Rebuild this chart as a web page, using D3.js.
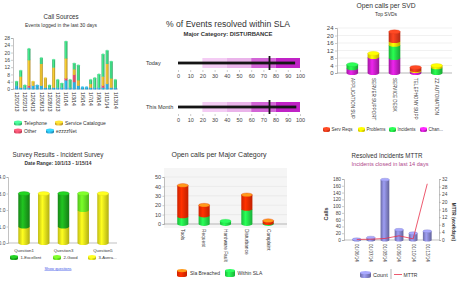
<!DOCTYPE html>
<html><head><meta charset="utf-8">
<script src="https://cdn.jsdelivr.net/npm/d3@7"></script>
<style>body{margin:0;background:#fff}svg{display:block}text{font-family:"Liberation Sans",Arial,sans-serif;fill:#333}</style>
</head><body><svg id="c" width="458" height="290"></svg>
<script>
// ---------- DATA ----------
const callDates=["12/20/13","12/21/13","12/22/13","12/23/13","12/24/13","12/25/13","12/26/13","12/27/13","12/28/13","12/29/13","12/30/13","12/31/13","1/1/14","1/2/14","1/3/14","1/4/14","1/5/14","1/6/14","1/7/14","1/8/14","1/9/14","1/10/14","1/11/14","1/12/14","1/13/14"];
const callEzzzzNet=[2,1,1,1,2,2,2,1,1,1,1,1,5,1,4,2,1,1,1,1,1,1,3,1,1];
const callOther=[0,0,0,1,0,0,0,0,0,0,0,0,1,0,4,0,0,0,0,0,0,1,0,0,0];
const callServiceCatalogue=[0,6,0,14,2,0,12,5,0,11,0,0,11,0,3,3,0,0,2,0,0,5,11,5,0];
const callTelephone=[2,3,1,6,0,0,3,0,1,4,4,2,9,4,3,8,0,0,2,5,7,12,7,9,4];
const callTicks=[0,4,8,12,16,20,24,28];

const bulletLabels=["Today","This Month"];
const bulletValues=[96,97];
const bulletTargets=[75,75];
const bulletRangeBreaks=[20,40,60,80,100];
const bulletTicks=[0,10,20,30,40,50,60,70,80,90,100];

const svdCategories=["APPLICATION SUP","SERVER SUPPORT","SERVICE DESK","TELEPHONY SUPP","ZZ AUTOMATION"];
const svdChanges=[2.5,8.5,8,1,0];
const svdIncidents=[2,0,7,0,3];
const svdProblems=[0,2,2,0.5,1];
const svdServReqs=[0,0,5,1.5,0];
const svdTicks=[0,4,8,12,16,20,24];

const surveyQuestions=["Question1","Question2","Question3","Question4","Question5"];
const surveyAverage=[1,3,1,2,3];
const surveyGood=[0,0,0,1,0];
const surveyExcellent=[2,0,2,0,0];
const surveyTicks=[0,1,2,3,4];

const majorCategories=["Tools","Request","Hardware Fault","Disturbance","Complaint"];
const majorWithinSla=[8,9,3,16,1];
const majorBreached=[33,11,0,15,2.5];
const majorTicks=[0,10,20,30,40,50];

const mttrDates=["01/06/14","01/07/14","01/08/14","01/09/14","01/10/14","01/13/14"];
const mttrCounts=[2,7,178,30,20,26];
const mttrDays=[0.3,0.4,0.8,2.2,0.6,29.5];
const mttrCountTicks=[0,20,40,60,80,100,120,140,160,180];
const mttrDayTicks=[0,4,8,12,16,20,24,28,32];

// ---------- HELPERS ----------
const svg=d3.select("#c");
const defs=svg.append("defs");
const made={};
function gradFor(color){
  const id="g"+color.replace("#","");
  if(!made[id]){
    const c=d3.color(color);
    const g=defs.append("linearGradient").attr("id",id).attr("x1",0).attr("x2",1).attr("y1",0).attr("y2",0);
    g.append("stop").attr("offset","0%").attr("stop-color",c.darker(0.6));
    g.append("stop").attr("offset","38%").attr("stop-color",c.brighter(0.5));
    g.append("stop").attr("offset","100%").attr("stop-color",c.darker(0.8));
    made[id]=1;
  }
  return `url(#${id})`;
}
function cyl(g,cx,w,segs,capColors){
  const rx=w/2, ry=Math.max(0.6,w*0.17);
  const x0=cx-rx,x1=cx+rx;
  segs.forEach(s=>{
    g.append("path").attr("d",`M${x0},${s.y1} L${x0},${s.y0} A${rx},${ry} 0 0 0 ${x1},${s.y0} L${x1},${s.y1} Z`)
      .attr("fill",gradFor(s.color));
  });
  if(segs.length){
    const t=segs[segs.length-1];
    const cap=(capColors&&capColors[t.color])||d3.color(t.color).brighter(0.7);
    g.append("ellipse").attr("cx",cx).attr("cy",t.y1).attr("rx",rx).attr("ry",ry)
      .attr("fill",cap).attr("stroke",d3.color(t.color).darker(0.3)).attr("stroke-width",0.3);
  }
}
function miniCyl(g,x,y,w,h,color,cap){
  const rx=w/2, ry=Math.min(1.6,h*0.3);
  g.append("path").attr("d",`M${x},${y+ry} L${x},${y+h-ry} A${rx},${ry} 0 0 0 ${x+w},${y+h-ry} L${x+w},${y+ry} Z`).attr("fill",gradFor(color));
  g.append("ellipse").attr("cx",x+rx).attr("cy",y+ry).attr("rx",rx).attr("ry",ry).attr("fill",cap||d3.color(color).brighter(0.7));
}
function txt(x,y,s,size,opt={}){
  const t=svg.append("text").attr("x",x).attr("y",y).attr("font-size",size).text(s)
    .attr("text-anchor",opt.anchor||"middle");
  if(opt.bold)t.attr("font-weight","bold");
  if(opt.fill)t.style("fill",opt.fill);
  if(opt.len)t.attr("textLength",opt.len).attr("lengthAdjust","spacingAndGlyphs");
  if(opt.deco)t.attr("text-decoration",opt.deco);
  return t;
}
function styleAxis(a,size){
  a.selectAll("text").attr("font-size",size).style("fill","#444").attr("font-family","Liberation Sans, Arial, sans-serif");
  a.selectAll("line").attr("stroke","#999").attr("stroke-width",0.5);
  a.select(".domain").attr("stroke","#999").attr("stroke-width",0.6);
}
function stackSegs(stack,i,y,colors){
  return stack.map(s=>({y0:y(s[i][0]),y1:y(s[i][1]),color:colors[s.key]})).filter(s=>s.y0-s.y1>0.05);
}
function rotLabels(g,cats,x,y0,size){
  cats.forEach(c=>{
    if(c==null)return;
    g.append("text").attr("font-size",size).attr("text-anchor","start").attr("dy","0.35em")
      .attr("transform",`translate(${x(c)+x.bandwidth()/2},${y0}) rotate(90)`).text(c);
  });
}

// ---------- CHART 1: Call Sources ----------
{
  txt(61,19,"Call Sources",7.5,{len:35});
  txt(61,26.5,"Events logged in the last 30 days",5.5,{len:72});
  const g=svg.append("g");
  const y=d3.scaleLinear([0,28],[89,38]);
  const x=d3.scaleBand(callDates,[14,118]).padding(0.28);
  const rows=callDates.map((d,i)=>({d,ezzzzNet:callEzzzzNet[i],other:callOther[i],service:callServiceCatalogue[i],telephone:callTelephone[i]}));
  const colors={ezzzzNet:"#2aa8d8",other:"#e84a64",service:"#e8b42c",telephone:"#3ccc7c"};
  const st=d3.stack().keys(["ezzzzNet","other","service","telephone"])(rows);
  const ay=g.append("g").attr("transform","translate(13,0)").call(d3.axisLeft(y).tickValues(callTicks).tickSize(2).tickPadding(1));
  styleAxis(ay,5);
  g.append("line").attr("x1",13).attr("x2",118).attr("y1",89).attr("y2",89).attr("stroke","#999").attr("stroke-width",0.6);
  rows.forEach((r,i)=>cyl(g,x(r.d)+x.bandwidth()/2,x.bandwidth(),stackSegs(st,i,y,colors)));
  rotLabels(g,callDates.filter((d,i)=>i%2===0),x,92,5);
  const L=[["Telephone","telephone",14,120.5],["Service Catalogue","service",55,120.5],["Other","other",14,128.5],["ezzzzNet","ezzzzNet",46,128.5]];
  L.forEach(([n,k,lx,ly])=>{miniCyl(g,lx,ly,8,5,colors[k]);txt(lx+10,ly+4.3,n,5,{anchor:"start"});});
}

// ---------- CHART 2: Bullet ----------
{
  txt(228,27,"% of Events resolved within SLA",8.5,{len:124});
  txt(228,36,"Major Category: DISTURBANCE",5.5,{bold:true,len:89});
  const x=d3.scaleLinear([0,100],[178,300]);
  const bandColors=["#ffffff","#f4ccf4","#eab4ea","#d264d6","#c022c6"];
  const tops=[58,102];
  bulletLabels.forEach((lab,i)=>{
    const g=svg.append("g"); const top=tops[i], h=10;
    txt(146,top+6.5,lab,5.5,{anchor:"start"});
    let prev=0;
    bulletRangeBreaks.forEach((b,j)=>{
      g.append("rect").attr("x",x(prev)).attr("y",top).attr("width",x(b)-x(prev)).attr("height",h).attr("fill",bandColors[j]);
      prev=b;
    });
    g.append("rect").attr("x",x(0)).attr("y",top+h/2-1.4).attr("width",x(bulletValues[i])-x(0)).attr("height",2.8).attr("fill","#151515");
    g.append("rect").attr("x",x(bulletTargets[i])-0.9).attr("y",top-2).attr("width",1.8).attr("height",h+4).attr("fill","#151515");
    const ax=g.append("g").attr("transform",`translate(0,${top+h+2})`).call(d3.axisBottom(x).tickValues(bulletTicks).tickSize(2).tickPadding(2));
    styleAxis(ax,5.5); ax.select(".domain").remove();
  });
}

// ---------- CHART 3: Open calls per SVD ----------
{
  txt(386,8,"Open calls per SVD",7.5,{len:59});
  txt(386,15.5,"Top SVDs",5.5,{len:22});
  const g=svg.append("g");
  const y=d3.scaleLinear([0,24],[73,28]);
  const x=d3.scaleBand(svdCategories,[337,452]).padding(0.45);
  svdTicks.forEach(t=>g.append("line").attr("x1",337).attr("x2",452).attr("y1",y(t)).attr("y2",y(t)).attr("stroke","#e2e2e2").attr("stroke-width",0.5));
  const ay=g.append("g").attr("transform","translate(337,0)").call(d3.axisLeft(y).tickValues(svdTicks).tickSize(2).tickPadding(1.5));
  styleAxis(ay,6);
  g.append("line").attr("x1",337).attr("x2",452).attr("y1",73).attr("y2",73).attr("stroke","#999").attr("stroke-width",0.6);
  const rows=svdCategories.map((c,i)=>({c,changes:svdChanges[i],incidents:svdIncidents[i],problems:svdProblems[i],servReqs:svdServReqs[i]}));
  const colors={changes:"#c81ec8",incidents:"#22dd44",problems:"#f8e400",servReqs:"#ee3a1c"};
  const st=d3.stack().keys(["changes","incidents","problems","servReqs"])(rows);
  rows.forEach((r,i)=>cyl(g,x(r.c)+x.bandwidth()/2,x.bandwidth(),stackSegs(st,i,y,colors)));
  rotLabels(g,svdCategories,x,78,4.6);
  [["Serv Reqs","servReqs",323],["Problems","problems",358],["Incidents","incidents",389],["Chan...","changes",420]].forEach(([n,k,lx])=>{
    miniCyl(g,lx,127,7,5,colors[k]);txt(lx+8.5,131.2,n,4.5,{anchor:"start"});
  });
}

// ---------- CHART 4: Survey ----------
{
  txt(58,157,"Survey Results - Incident Survey",7.5,{len:91});
  txt(58,164.5,"Date Range: 10/1/13 - 1/15/14",5,{bold:true,len:67});
  const g=svg.append("g");
  const y=d3.scaleLinear([0,4],[243,177]);
  const x=d3.scaleBand(surveyQuestions,[10,117]).padding(0.42);
  const ay=g.append("g").attr("transform","translate(8,0)").call(d3.axisLeft(y).tickValues(surveyTicks).tickSize(1.5).tickPadding(1));
  styleAxis(ay,5);
  g.append("line").attr("x1",8).attr("x2",117).attr("y1",243).attr("y2",243).attr("stroke","#999").attr("stroke-width",0.6);
  const rows=surveyQuestions.map((q,i)=>({q,average:surveyAverage[i],good:surveyGood[i],excellent:surveyExcellent[i]}));
  const colors={average:"#ece81a",good:"#66ee22",excellent:"#1ca51c"};
  const st=d3.stack().keys(["average","good","excellent"])(rows);
  rows.forEach((r,i)=>cyl(g,x(r.q)+x.bandwidth()/2,x.bandwidth(),stackSegs(st,i,y,colors)));
  surveyQuestions.forEach((q,i)=>{ if(i%2===0) txt(x(q)+x.bandwidth()/2,251.5,q,4.3); });
  [["1-Excellent","excellent",10],["2-Good","good",53],["3-Avera...","average",88]].forEach(([n,k,lx])=>{
    miniCyl(g,lx,255,8,5,colors[k]);txt(lx+10.5,259.3,n,4.2,{anchor:"start"});
  });
  txt(58,269.5,"Show questions",4.3,{fill:"#3d55e8",deco:"underline",len:27});
}

// ---------- CHART 5: Major Category ----------
{
  txt(219,157,"Open calls per Major Category",7.5,{len:95});
  const g=svg.append("g");
  const y=d3.scaleLinear([0,50],[224,177]);
  const x=d3.scaleBand(majorCategories,[167,284]).padding(0.48);
  g.append("rect").attr("x",164).attr("y",168).attr("width",123).attr("height",60).attr("fill","#f5f5f5");
  majorTicks.forEach(t=>g.append("line").attr("x1",164).attr("x2",287).attr("y1",y(t)).attr("y2",y(t)).attr("stroke","#e0e0e0").attr("stroke-width",0.5));
  const ay=g.append("g").attr("transform","translate(164,0)").call(d3.axisLeft(y).tickValues(majorTicks).tickSize(1.5).tickPadding(1.5));
  styleAxis(ay,5.5);
  g.append("line").attr("x1",164).attr("x2",287).attr("y1",224).attr("y2",224).attr("stroke","#999").attr("stroke-width",0.6);
  const rows=majorCategories.map((c,i)=>({c,within:majorWithinSla[i],breached:majorBreached[i]}));
  const colors={within:"#22e84a",breached:"#ff2a00"};
  const caps={"#ff2a00":"#ff9a1a"};
  const st=d3.stack().keys(["within","breached"])(rows);
  rows.forEach((r,i)=>cyl(g,x(r.c)+x.bandwidth()/2,x.bandwidth(),stackSegs(st,i,y,colors),caps));
  rotLabels(g,majorCategories,x,229,4.8);
  miniCyl(g,177,269,10,8,colors.breached,"#ff9a1a");txt(190,275,"Sla Breached",5,{anchor:"start"});
  miniCyl(g,225,269,10,8,colors.within);txt(237.5,275,"Within SLA",5,{anchor:"start"});
}

// ---------- CHART 6: MTTR ----------
{
  txt(387,158,"Resolved Incidents MTTR",7.5,{len:71});
  txt(390,165.5,"Incidents closed in last 14 days",5.2,{fill:"#b0488c",len:77});
  const g=svg.append("g");
  const yL=d3.scaleLinear([0,180],[240,179]);
  const yR=d3.scaleLinear([0,32],[240,179]);
  const x=d3.scaleBand(mttrDates,[347,437]).padding(0.38);
  const al=g.append("g").attr("transform","translate(344,0)").call(d3.axisLeft(yL).tickValues(mttrCountTicks).tickSize(2).tickPadding(1));
  styleAxis(al,4.8);
  const ar=g.append("g").attr("transform","translate(439,0)").call(d3.axisRight(yR).tickValues(mttrDayTicks).tickSize(2).tickPadding(1));
  styleAxis(ar,4.8);
  g.append("line").attr("x1",344).attr("x2",439).attr("y1",240).attr("y2",240).attr("stroke","#999").attr("stroke-width",0.6);
  mttrDates.forEach((d,i)=>cyl(g,x(d)+x.bandwidth()/2,x.bandwidth(),[{y0:yL(0),y1:yL(mttrCounts[i]),color:"#8484cc"}]));
  const line=d3.line().x((v,i)=>x(mttrDates[i])+x.bandwidth()/2).y(v=>yR(v));
  g.append("path").attr("d",line(mttrDays)).attr("fill","none").attr("stroke","#e8304a").attr("stroke-width",0.8);
  rotLabels(g,mttrDates,x,244,4.6);
  g.append("text").attr("font-size",5.5).attr("font-weight","bold").attr("text-anchor","middle")
    .attr("transform","translate(328,214) rotate(-90)").text("Calls");
  g.append("text").attr("font-size",4.6).attr("font-weight","bold").attr("text-anchor","middle")
    .attr("transform","translate(452,222) rotate(90)").text("MTTR (workdays)");
  miniCyl(g,360,271,11,7,"#8484cc");
  txt(373,276.5,"Count",5.5,{anchor:"start"});
  g.append("line").attr("x1",391).attr("x2",391).attr("y1",269).attr("y2",279).attr("stroke","#666").attr("stroke-width",0.5);
  g.append("line").attr("x1",394).attr("x2",402).attr("y1",274.5).attr("y2",274.5).attr("stroke","#e8304a").attr("stroke-width",0.8);
  txt(403.5,276.5,"MTTR",5,{anchor:"start"});
}
</script></body></html>
